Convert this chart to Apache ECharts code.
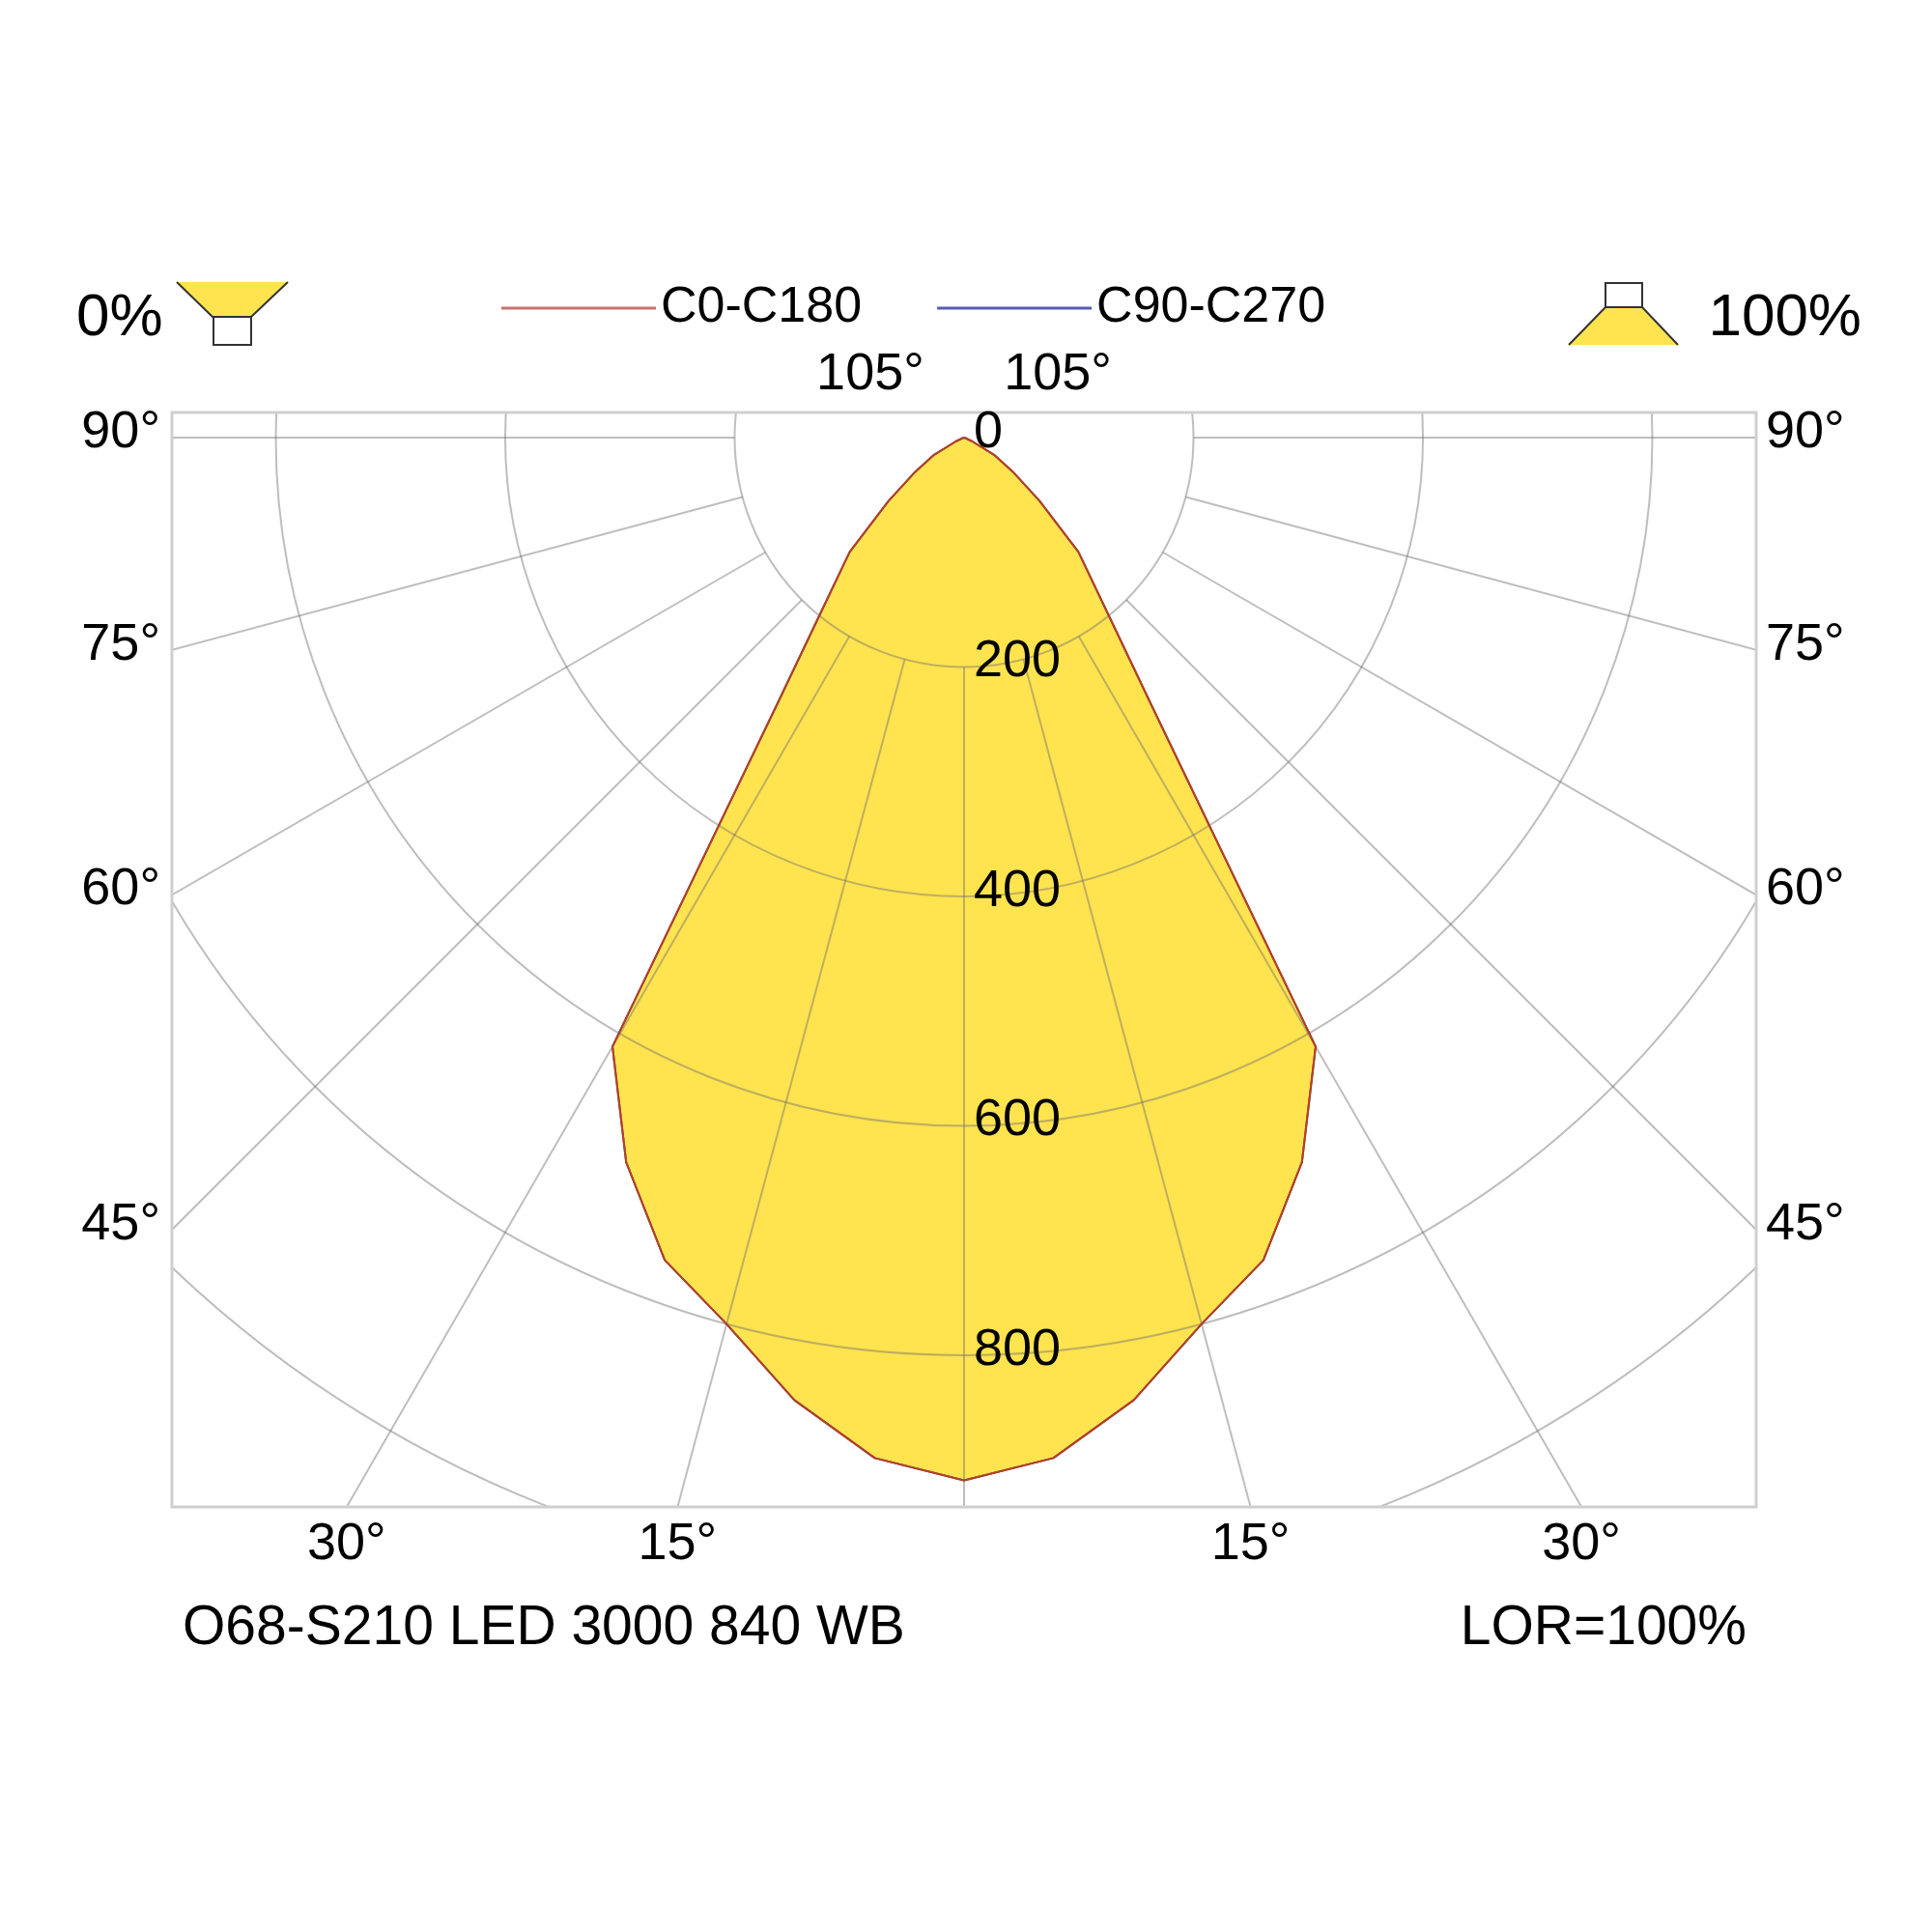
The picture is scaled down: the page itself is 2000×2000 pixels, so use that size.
<!DOCTYPE html>
<html>
<head>
<meta charset="utf-8">
<script src="https://cdn.jsdelivr.net/npm/echarts@6/dist/echarts.min.js"></script>
<style>
  html, body { margin: 0; padding: 0; background: #fff; }
  #chart { width: 2000px; height: 2000px; }
</style>
</head>
<body>
<div id="chart"></div>
<script>
// 光强分布 (cd/klm), 每5度一个点, 左右对称
var gammaDeg = [0, 5, 10, 15, 20, 25, 30, 35, 40, 45, 50, 55, 60, 65, 70, 75, 80, 85, 90];
var c0c180 = [909, 893, 852, 800, 763, 697, 613, 285, 188, 141, 86, 52, 31, 8, 2, 0, 0, 0, 0];
var c90c270 = [909, 893, 852, 800, 763, 697, 613, 285, 188, 141, 86, 52, 31, 8, 2, 0, 0, 0, 0];

// 刻度
var radialTicks = [0, 200, 400, 600, 800];
var sideAngleTicks = [90, 75, 60, 45];
var bottomAngleTicks = [30, 15];
var topAngleTicks = [105];

var seriesNames = ['C0-C180', 'C90-C270'];
var luminaireName = 'O68-S210 LED 3000 840 WB';
var lorText = 'LOR=100%';

// 画布布局
var CX = 998, CY = 453;
var R_MAX = 1200, R_PX = 1425;           // 1200 cd -> 1425 px
var BOX = { left: 178, top: 427, right: 1818, bottom: 1560 };
var FONT = '"Liberation Sans", Arial, sans-serif';
var YELLOW = '#ffe34f';

// 把 gamma 角转成极坐标点 (左半边 360-g, 右半边 g)
function toPolar(vals) {
    var pts = [];
    for (var i = vals.length - 1; i > 0; i--) {
        pts.push([vals[i], 360 - gammaDeg[i]]);
    }
    pts.push([vals[0], 0]);
    for (var j = 1; j < vals.length; j++) {
        pts.push([vals[j], gammaDeg[j]]);
    }
    return pts;
}

var chart = echarts.init(document.getElementById('chart'));
var option = {
    animation: false,
    backgroundColor: '#fff',
    legend: {
        left: 514,
        top: 288,
        icon: 'rect',
        itemWidth: 160,
        itemHeight: 3,
        itemGap: 78,
        selectedMode: false,
        z: 20,
        textStyle: { fontSize: 52, fontFamily: FONT, color: '#000' },
        data: [
            { name: seriesNames[0], itemStyle: { color: '#c87070' } },
            { name: seriesNames[1], itemStyle: { color: '#5a5ab4' } }
        ]
    },
    polar: [
        { center: [CX, CY], radius: [R_PX * 200 / R_MAX, R_PX] },   // 网格
        { center: [CX, CY], radius: [0, R_PX] }                     // 数据
    ],
    angleAxis: [{
        polarIndex: 0,
        type: 'value', min: 0, max: 360, interval: 15,
        startAngle: 270, clockwise: false, z: 3,
        axisLine: { show: false }, axisTick: { show: false }, axisLabel: { show: false },
        splitLine: { show: true, lineStyle: { color: 'rgba(110,110,110,0.45)', width: 2 } }
    }, {
        polarIndex: 1,
        type: 'value', min: 0, max: 360,
        startAngle: 270, clockwise: false,
        axisLine: { show: false }, axisTick: { show: false }, axisLabel: { show: false },
        splitLine: { show: false }
    }],
    radiusAxis: [{
        polarIndex: 0,
        type: 'value', min: 200, max: R_MAX, interval: 200, z: 3,
        axisLine: { show: false }, axisTick: { show: false }, axisLabel: { show: false },
        splitLine: { show: true, lineStyle: { color: 'rgba(110,110,110,0.45)', width: 2 } }
    }, {
        polarIndex: 1,
        type: 'value', min: 0, max: R_MAX,
        axisLine: { show: false }, axisTick: { show: false }, axisLabel: { show: false },
        splitLine: { show: false }
    }],
    series: [{
        name: 'fill',
        type: 'line',
        coordinateSystem: 'polar',
        polarIndex: 1,
        data: toPolar(c0c180),
        symbol: 'none',
        silent: true,
        z: 1,
        lineStyle: { width: 0, opacity: 0 },
        areaStyle: { color: YELLOW, opacity: 1 }
    }, {
        name: seriesNames[1],
        type: 'line',
        coordinateSystem: 'polar',
        polarIndex: 1,
        data: toPolar(c90c270),
        symbol: 'none',
        z: 4,
        lineStyle: { color: '#4a4aa8', width: 2 }
    }, {
        name: seriesNames[0],
        type: 'line',
        coordinateSystem: 'polar',
        polarIndex: 1,
        data: toPolar(c0c180),
        symbol: 'none',
        z: 5,
        lineStyle: { color: '#b8401c', width: 2 }
    }]
};
chart.setOption(option);

// ---------------- 标注和遮罩 ----------------
var center = chart.convertToPixel({ polarIndex: 1 }, [0, 0]);
var cx = center[0], cy = center[1];
var g = [];

function txt(text, x, y, size, align, vAlign) {
    g.push({
        type: 'text', z: 30, silent: true,
        style: {
            text: text, x: x, y: y, fill: '#000',
            font: size + 'px ' + FONT,
            textAlign: align, textVerticalAlign: vAlign
        }
    });
}

// 白色遮罩, 把极坐标网格裁到方框里
var W = 2000;
[[0, 0, W, BOX.top - 1], [0, BOX.bottom + 1, W, W - BOX.bottom],
 [0, 0, BOX.left - 1, W], [BOX.right + 1, 0, W - BOX.right, W]].forEach(function (r) {
    g.push({ type: 'rect', z: 10, silent: true, shape: { x: r[0], y: r[1], width: r[2], height: r[3] }, style: { fill: '#fff' } });
});
// 方框
g.push({
    type: 'rect', z: 15, silent: true,
    shape: { x: BOX.left, y: BOX.top, width: BOX.right - BOX.left, height: BOX.bottom - BOX.top },
    style: { fill: 'none', stroke: '#cfcfcf', lineWidth: 3 }
});

// 径向刻度
radialTicks.forEach(function (v) {
    var p = chart.convertToPixel({ polarIndex: 1 }, [v, 0]);
    txt(String(v), p[0] + 10, p[1] - 5, 54, 'left', 'middle');
});

// 左右两侧角度
var rad = Math.PI / 180;
sideAngleTicks.forEach(function (a) {
    var yl = cy + (cx - BOX.left) / Math.tan(a * rad);
    var yr = cy + (BOX.right - cx) / Math.tan(a * rad);
    txt(a + '°', BOX.left - 12, yl - 5, 54, 'right', 'middle');
    txt(a + '°', BOX.right + 10, yr - 5, 54, 'left', 'middle');
});
// 底部角度
bottomAngleTicks.forEach(function (a) {
    var dx = (BOX.bottom - cy) * Math.tan(a * rad);
    txt(a + '°', cx - dx, BOX.bottom + 12, 54, 'center', 'top');
    txt(a + '°', cx + dx, BOX.bottom + 12, 54, 'center', 'top');
});
// 顶部角度
topAngleTicks.forEach(function (a) {
    var dx = (cy - BOX.top) * Math.tan((180 - a) * rad);
    txt(a + '°', cx - dx, BOX.top - 12, 54, 'center', 'bottom');
    txt(a + '°', cx + dx, BOX.top - 12, 54, 'center', 'bottom');
});

// 底部文字
txt(luminaireName, 189, 1686, 57, 'left', 'middle');
txt(lorText, 1808, 1686, 57, 'right', 'middle');
// 0% / 100%
txt('0%', 79, 330, 62, 'left', 'middle');
txt('100%', 1927, 330, 62, 'right', 'middle');

// 灯具小图标 (下照 0%)
g.push({ type: 'polygon', z: 30, silent: true, shape: { points: [[183, 292], [298, 292], [260, 328], [220, 328]] }, style: { fill: YELLOW } });
g.push({ type: 'polyline', z: 31, silent: true, shape: { points: [[183, 292], [220, 328], [260, 328], [298, 292]] }, style: { stroke: '#333', lineWidth: 2, fill: 'none' } });
g.push({ type: 'rect', z: 31, silent: true, shape: { x: 221, y: 328, width: 39, height: 29 }, style: { fill: '#fff', stroke: '#333', lineWidth: 2 } });
// 上照 100%
g.push({ type: 'polygon', z: 30, silent: true, shape: { points: [[1662, 318], [1700, 318], [1737, 357], [1624, 357]] }, style: { fill: YELLOW } });
g.push({ type: 'polyline', z: 31, silent: true, shape: { points: [[1624, 357], [1662, 318], [1700, 318], [1737, 357]] }, style: { stroke: '#333', lineWidth: 2, fill: 'none' } });
g.push({ type: 'rect', z: 31, silent: true, shape: { x: 1662, y: 293, width: 38, height: 25 }, style: { fill: '#fff', stroke: '#333', lineWidth: 2 } });

chart.setOption({ graphic: g });
</script>
</body>
</html>
